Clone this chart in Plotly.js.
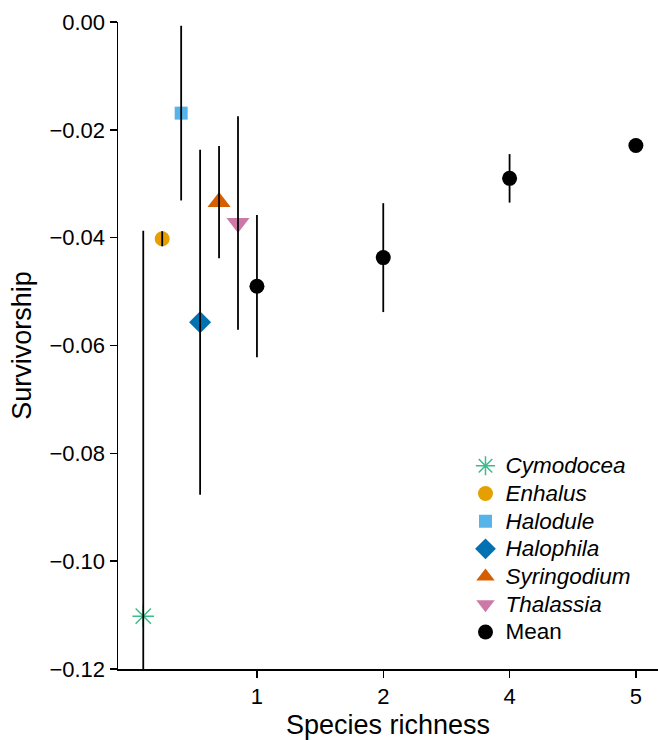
<!DOCTYPE html>
<html>
<head>
<meta charset="utf-8">
<script src="https://cdn.plot.ly/plotly-3.0.1.min.js"></script>
<style>html,body{margin:0;padding:0;background:#fff;}#chart{width:658px;height:740px;}</style>
</head>
<body>
<div id="chart"></div>
<script>
// Species-level estimates (positions left of richness 1)
const species = ['Cymodocea', 'Enhalus', 'Halodule', 'Halophila', 'Syringodium', 'Thalassia'];
const speciesX = [0.10, 0.25, 0.40, 0.55, 0.70, 0.85];
const speciesY = [-0.1102, -0.0402, -0.0169, -0.0557, -0.0334, -0.0373];
const speciesErr = [0.0715, 0.0014, 0.0162, 0.0320, 0.0104, 0.0198];
const speciesColors = ['#3dbb8c', '#e69f00', '#56b4e9', '#0072b2', '#d55e00', '#cc79a7'];
const speciesSymbols = ['asterisk-open', 'circle', 'square', 'diamond', 'triangle-up', 'triangle-down'];
const speciesSizes = [18, 15, 13, 17, 20, 20];

// Mean by species richness
const richnessLabels = ['1', '2', '4', '5'];
const richnessPos = [1, 2, 3, 4];
const meanY = [-0.0490, -0.0437, -0.0290, -0.0229];
const meanErr = [0.0132, 0.0101, 0.0045, 0.0008];

const LEG = (t) => '<span style="font-size:22.5px">' + t + '</span>';

const traces = [];
species.forEach((s, i) => {
  traces.push({
    type: 'scatter', mode: 'markers', name: LEG('<i>' + s + '</i>'),
    x: [speciesX[i]], y: [speciesY[i]],
    marker: {symbol: speciesSymbols[i], size: speciesSizes[i], color: speciesColors[i],
             line: {color: speciesColors[i], width: i === 0 ? 1.5 : 0}},
    cliponaxis: false
  });
});
traces.push({
  type: 'scatter', mode: 'markers', name: LEG('Mean'),
  x: richnessPos, y: meanY,
  marker: {symbol: 'circle', size: 15, color: '#000'}
});
// Error bars drawn on top of markers
traces.push({
  type: 'scatter', mode: 'markers', showlegend: false, hoverinfo: 'skip',
  x: speciesX.concat(richnessPos), y: speciesY.concat(meanY),
  marker: {size: 1, opacity: 0},
  error_y: {type: 'data', symmetric: true, array: speciesErr.concat(meanErr),
            color: '#000', thickness: 1.8, width: 0}
});

const layout = {
  width: 658, height: 740,
  margin: {l: 118, r: 0, t: 22, b: 71},
  paper_bgcolor: '#fff', plot_bgcolor: '#fff',
  font: {family: 'Liberation Sans, Arial, sans-serif', color: '#000'},
  showlegend: true,
  legend: {x: 0.6435, y: 0.028, xanchor: 'left', yanchor: 'bottom',
           font: {size: 19, color: '#000'}, bgcolor: 'rgba(0,0,0,0)',
           tracegroupgap: 0, itemsizing: 'trace'},
  xaxis: {
    range: [-0.1, 4.175], showgrid: false, zeroline: false,
    showline: true, linecolor: '#000', linewidth: 1.5,
    ticks: 'outside', ticklen: 7, tickwidth: 1.5, tickcolor: '#000',
    tickmode: 'array', tickvals: richnessPos, ticktext: richnessLabels,
    tickfont: {size: 22},
    title: {text: 'Species richness', font: {size: 27}, standoff: 14}
  },
  yaxis: {
    range: [-0.12, 0], showgrid: false, zeroline: false,
    showline: true, linecolor: '#000', linewidth: 1.5,
    ticks: 'outside', ticklen: 7, tickwidth: 1.5, tickcolor: '#000',
    tickvals: [0, -0.02, -0.04, -0.06, -0.08, -0.10, -0.12],
    tickformat: '.2f', tickfont: {size: 22},
    title: {text: 'Survivorship', font: {size: 27}, standoff: 10}
  }
};

Plotly.newPlot('chart', traces, layout, {displayModeBar: false, staticPlot: true});
</script>
</body>
</html>
